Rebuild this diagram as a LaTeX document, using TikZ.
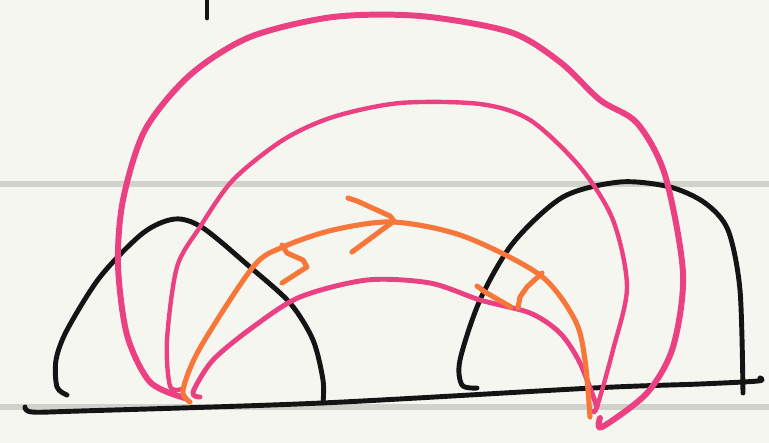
\documentclass[tikz,border=0pt]{standalone}
\usepackage{xcolor}
\definecolor{paper}{HTML}{F6F6F1}
\definecolor{rule}{HTML}{D2D2CC}
\definecolor{ink}{HTML}{141414}
\definecolor{rose}{HTML}{EB4183}
\definecolor{tangerine}{HTML}{F7773A}
\tikzset{
  ruleline/.style={rule, line width=3.4pt},
  inkline/.style={ink, line width=2.8pt, line cap=round, line join=round},
  roseline/.style={rose, line width=#1, line cap=round, line join=round},
  roseline/.default=2.8pt,
  orangeline/.style={tangerine, line width=2.9pt, line cap=round, line join=round},
}
\begin{document}
\begin{tikzpicture}[x=0.02cm, y=-0.02cm]
  % paper and ruled lines
  \fill[paper] (0,0) rectangle (769,443);
  \useasboundingbox (0,0) rectangle (769,443);
  \draw[ruleline] (0,184) -- (769,184);
  \draw[ruleline] (0,407) -- (769,407);

  % small tick at the top
  \draw[inkline] (207,0) -- (207,18);

  % ground and the two humps
  \draw[inkline] plot[smooth] coordinates {(25,407) (32,412) (80,411) (322,403) (593,388) (700,384) (758,381) (760,378)};
  \draw[inkline] plot[smooth] coordinates {(67,395) (57,387) (56,360) (67,330) (100,277) (143,233) (175,219) (203,228) (250,267) (290,303) (313,340) (323,380) (323,403)};
  \draw[inkline] plot[smooth] coordinates {(477,388) (462,385) (460,360) (480,300) (513,243) (563,197) (620,182) (670,187) (705,203) (728,230) (740,290) (743,393)};

  % pink arcs
  \draw[roseline=3.4pt] plot[smooth] coordinates {(185,398) (150,382) (127,335) (118,265) (123,200) (145,130) (190,75) (250,37) (333,17) (420,16) (510,32) (560,62) (600,100) (637,123) (665,175) (683,273) (673,347) (647,393) (602,427) (600,418)};
  \draw[roseline=2.5pt] plot[smooth] coordinates {(182,389) (170,386) (167,340) (177,267) (200,227) (233,180) (283,140) (333,117) (400,103) (480,104) (530,120) (580,167) (613,220) (627,287) (613,350) (597,407) (593,411)};
  \draw[roseline=2.8pt] plot[smooth] coordinates {(200,397) (193,392) (213,360) (253,327) (300,297) (367,280) (430,283) (480,300) (530,313) (560,333) (580,363) (597,407)};

  % orange path with its arrow marks
  \draw[orangeline] plot[smooth] coordinates {(190,402) (183,390) (200,348) (253,267) (283,247) (333,230) (393,222) (463,236) (540,275) (575,320) (585,360) (590,417)};
  \draw[orangeline] (348,198) -- (357,201) -- (390,216) -- (394,221) -- (352,252);
  \draw[orangeline] (282,245) -- (287,253) -- (303,260) -- (307,267) -- (282,283);
  \draw[orangeline] (477,286) -- (485,292) -- (511,307);
  \draw[orangeline] (542,273) -- (527,287) -- (520,297) -- (518,308);
\end{tikzpicture}
\end{document}
